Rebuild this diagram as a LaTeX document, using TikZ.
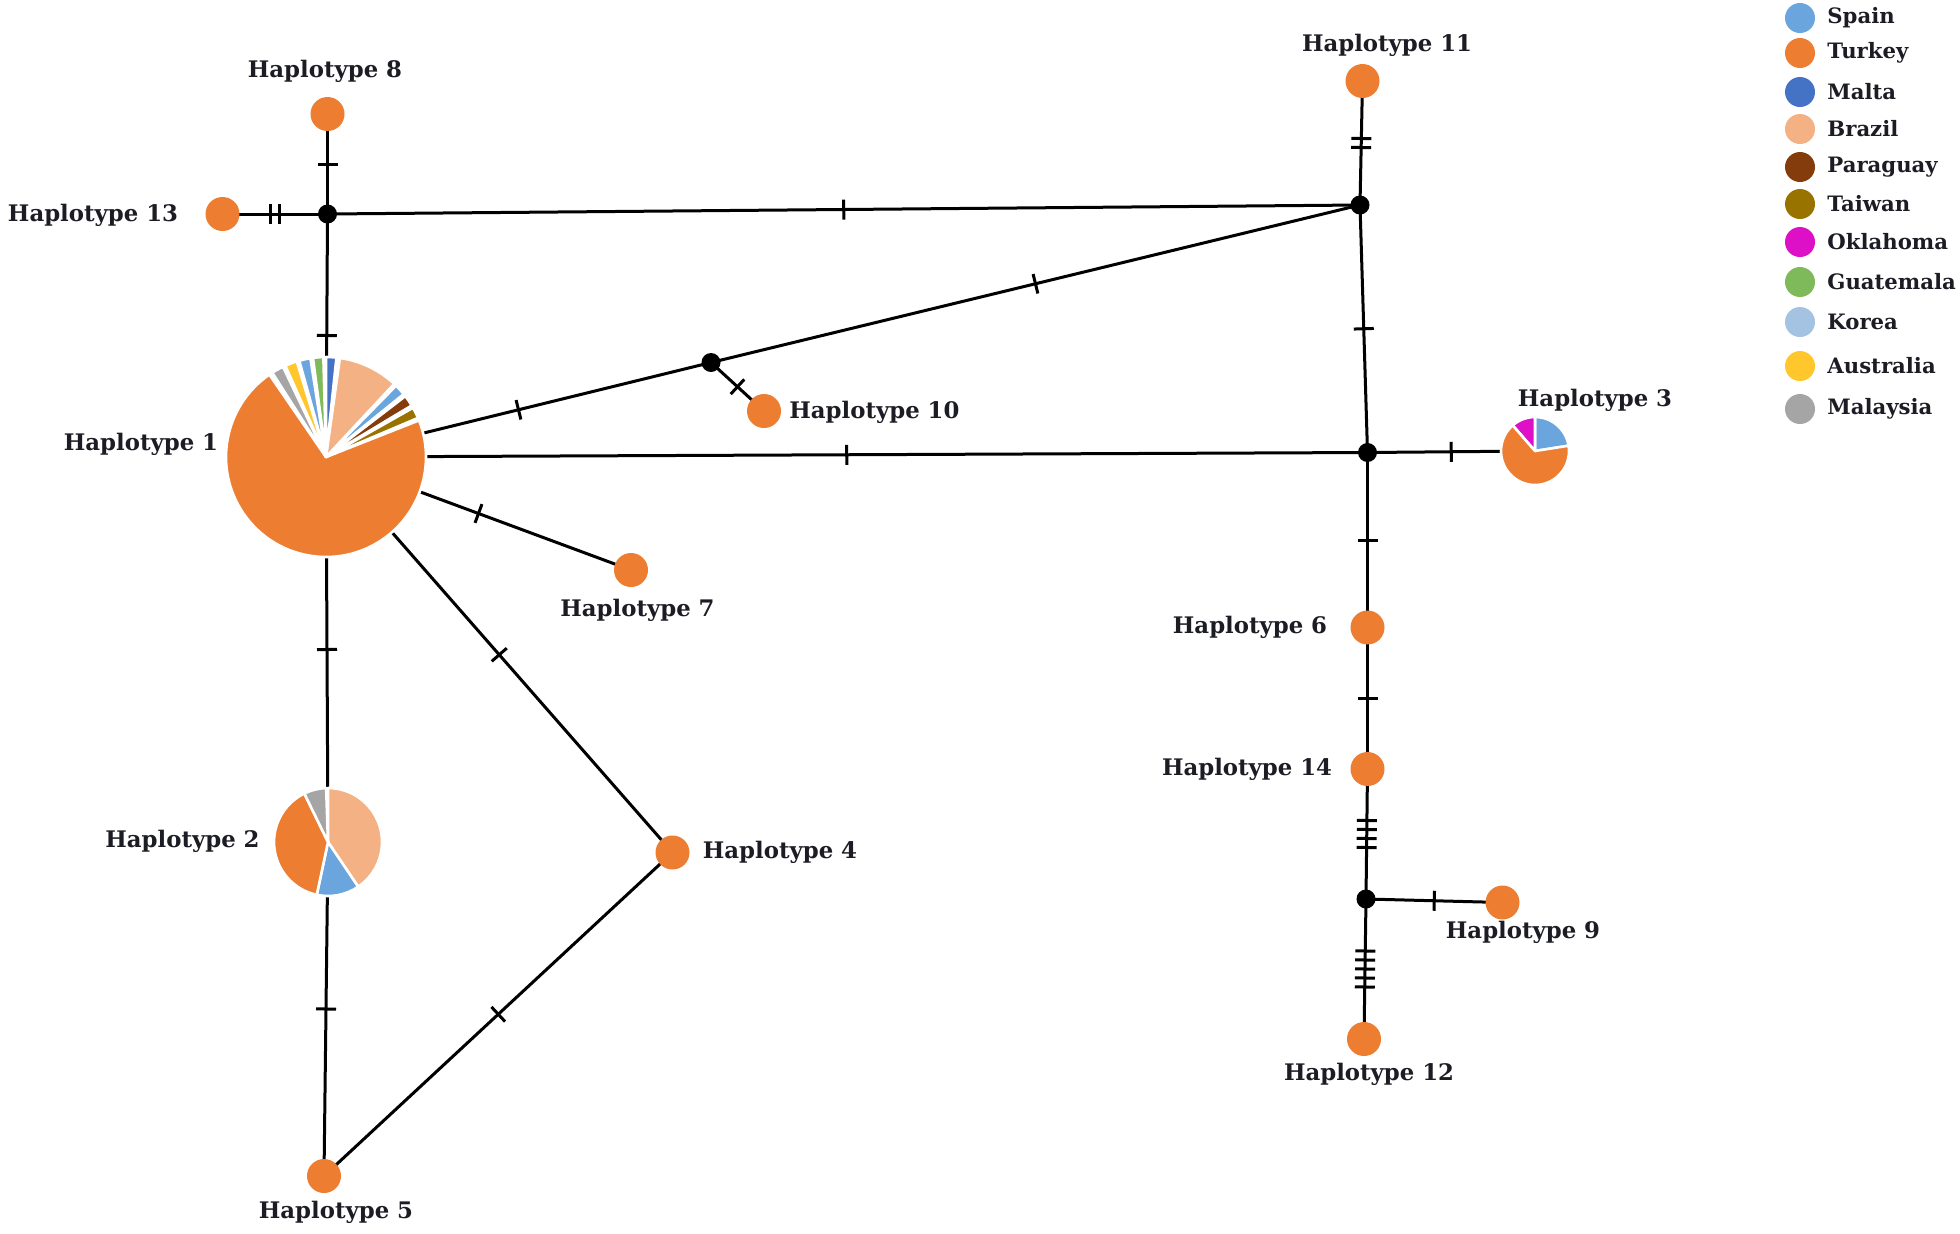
\documentclass[tikz,border=0pt]{standalone}
\usepackage{fontspec}
\setmainfont{DejaVu Serif}
\usetikzlibrary{decorations.markings,calc}
\pgfdeclarelayer{bg}
\pgfsetlayers{bg,main}
\definecolor{cSpain}{HTML}{6AA6DD}
\definecolor{cTurkey}{HTML}{ED7D31}
\definecolor{cMalta}{HTML}{4472C4}
\definecolor{cBrazil}{HTML}{F4B183}
\definecolor{cParaguay}{HTML}{843C0C}
\definecolor{cTaiwan}{HTML}{997300}
\definecolor{cOklahoma}{HTML}{DD10C8}
\definecolor{cGuatemala}{HTML}{7FBA5A}
\definecolor{cKorea}{HTML}{A4C2E2}
\definecolor{cAustralia}{HTML}{FFC72C}
\definecolor{cMalaysia}{HTML}{A5A5A5}
\definecolor{txt}{HTML}{1C1C24}
\newcommand\hslice[5]{% center, r(pt), a1, a2, color
  \begin{scope}[shift={(#1)},x=1pt,y=1pt]
  \filldraw[fill=#5,draw=white,line width=1.3pt,line join=round] (0,0) -- (#3:#2) arc[start angle=#3,end angle=#4,radius=#2] -- cycle;
  \end{scope}}
\begin{document}
\begin{tikzpicture}[x=0.5pt,y=-0.5pt,
  hap/.style={circle,fill=cTurkey,minimum size=17pt,inner sep=0pt},
  jn/.style={circle,fill=black,minimum size=9.5pt,inner sep=0pt},
  pie/.style={circle,fill=white,inner sep=0pt},
  lab/.style={text=txt,font=\bfseries\fontsize{11.4}{13}\selectfont,inner sep=0pt},
  leg/.style={text=txt,font=\bfseries\fontsize{10.6}{12}\selectfont,inner sep=0pt,anchor=west},
  legdot/.style={circle,minimum size=15pt,inner sep=0pt},
  edge/.style={line width=1.5pt},
  tks/.style={postaction={decorate},decoration={markings,mark=at position 0.5 with {\foreach \k in {1,...,#1}{\draw[line width=1.5pt] ({(\k-(#1+1)/2)*4.5pt},-5pt) -- ({(\k-(#1+1)/2)*4.5pt},5pt);}}}}
]
\useasboundingbox (0,0) rectangle (1960,1233);
% nodes
\node[pie,minimum size=100pt] (h1) at (326,457) {};
\node[pie,minimum size=54pt] (h2) at (328,842) {};
\node[pie,minimum size=34pt] (h3) at (1535,451) {};
\node[hap] (h4) at (672.5,852.5) {};
\node[hap] (h5) at (324,1176) {};
\node[hap] (h6) at (1367.5,627.5) {};
\node[hap] (h7) at (631,570) {};
\node[hap] (h8) at (327.5,114) {};
\node[hap] (h9) at (1502.5,902.5) {};
\node[hap] (h10) at (764,411) {};
\node[hap] (h11) at (1362.5,81) {};
\node[hap] (h12) at (1364,1039) {};
\node[hap] (h13) at (222.5,214) {};
\node[hap] (h14) at (1367.5,769) {};
\node[jn] (a) at (327.5,214) {};
\node[jn] (b) at (1360,205) {};
\node[jn] (c) at (711,362.5) {};
\node[jn] (d) at (1367.5,452.5) {};
\node[jn] (e) at (1366,899) {};
% pies
\hslice{h1}{50}{124.5}{381.5}{cTurkey}
\hslice{h1}{50}{23}{29.5}{cTaiwan}
\hslice{h1}{50}{31}{37.5}{cParaguay}
\hslice{h1}{50}{39}{45.5}{cSpain}
\hslice{h1}{50}{47}{82}{cBrazil}
\hslice{h1}{50}{84}{90}{cMalta}
\hslice{h1}{50}{91.5}{97.5}{cGuatemala}
\hslice{h1}{50}{99}{105.5}{cSpain}
\hslice{h1}{50}{107}{114}{cAustralia}
\hslice{h1}{50}{115.5}{122.5}{cMalaysia}
\hslice{h2}{27}{-56}{90}{cBrazil}
\hslice{h2}{27}{-102}{-56}{cSpain}
\hslice{h2}{27}{116}{258}{cTurkey}
\hslice{h2}{27}{92}{116}{cMalaysia}
\hslice{h3}{17}{9}{90}{cSpain}
\hslice{h3}{17}{90}{131}{cOklahoma}
\hslice{h3}{17}{131}{369}{cTurkey}
% edges
\begin{pgfonlayer}{bg}
\fill[white] (0,0) rectangle (1960,1233);
\draw[edge,tks=1] (h8.center) -- (a.center);
\draw[edge,tks=2] (h13.center) -- (a.center);
\draw[edge,tks=1] (a.center) -- (h1.center);
\draw[edge,tks=1] (a.center) -- (b.center);
\draw[edge,tks=2] (h11.center) -- (b.center);
\draw[edge,tks=1] (c.center) -- (b.center);
\draw[edge,tks=1] (h1.center) -- (c.center);
\draw[edge,tks=1] (c.center) -- (h10.center);
\draw[edge,tks=1] (b.center) -- (d.center);
\draw[edge,tks=1] (h1.center) -- (d.center);
\draw[edge,tks=1] (d.center) -- (h3.center);
\draw[edge,tks=1] (h1.center) -- (h7.center);
\draw[edge,tks=1] (d.center) -- (h6.center);
\draw[edge,tks=1] (h6.center) -- (h14.center);
\draw[edge,tks=4] (h14.center) -- (e.center);
\draw[edge,tks=1] (e.center) -- (h9.center);
\draw[edge,tks=5] (e.center) -- (h12.center);
\draw[edge,tks=1] (h1.center) -- (h2.center);
\draw[edge,tks=1] (h1.center) -- (h4.center);
\draw[edge,tks=1] (h2.center) -- (h5.center);
\draw[edge,tks=1] (h4.center) -- (h5.center);
\end{pgfonlayer}
% labels
\node[lab] (l1) at (141,444) {Haplotype 1};
\node[lab] (l2) at (182.5,841) {Haplotype 2};
\node[lab] (l3) at (1595,400) {Haplotype 3};
\node[lab] (l4) at (780,852.5) {Haplotype 4};
\node[lab] (l5) at (336,1212.5) {Haplotype 5};
\node[lab] (l6) at (1250,627.5) {Haplotype 6};
\node[lab] (l7) at (637.5,610) {Haplotype 7};
\node[lab] (l8) at (325,71) {Haplotype 8};
\node[lab] (l9) at (1523,932) {Haplotype 9};
\node[lab,anchor=west] (l10) at (789,412) {Haplotype 10};
\node[lab] (l11) at (1387,45) {Haplotype 11};
\node[lab] (l12) at (1369,1074) {Haplotype 12};
\node[lab] (l13) at (93,215) {Haplotype 13};
\node[lab] (l14) at (1247,769) {Haplotype 14};
% legend
\foreach \c/\t/\y [count=\i] in {cSpain/Spain/18,cTurkey/Turkey/53,cMalta/Malta/92,cBrazil/Brazil/129,cParaguay/Paraguay/167,cTaiwan/Taiwan/204,cOklahoma/Oklahoma/242,cGuatemala/Guatemala/282,cKorea/Korea/322,cAustralia/Australia/366,cMalaysia/Malaysia/409}{
  \node[legdot,fill=\c] (ld\i) at (1800,\y) {};
  \node[leg] (lt\i) at (1827,\y) {\t};
}
\end{tikzpicture}
\end{document}
